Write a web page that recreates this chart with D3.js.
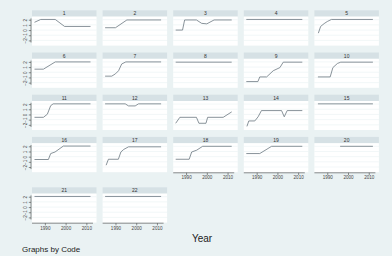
<!DOCTYPE html>
<html>
<head>
<meta charset="utf-8">
<script src="https://cdn.jsdelivr.net/npm/d3@7"></script>
<style>
  html, body { margin: 0; padding: 0; background: #eaf2f3; }
  svg { display: block; font-family: "Liberation Sans", Arial, sans-serif; }
</style>
</head>
<body>
<script>
// one entry per Code (1..22), values
const codes = d3.range(1, 23);

const panelYears = [
  [1985, 1988, 1995, 1999.5, 2012],
  [1985, 1990, 1995.5, 2012],
  [1985, 1988.3, 1989.3, 1995, 1997.5, 2000, 2003.5, 2012],
  [1985, 2012],
  [1985.7, 1986.8, 1988.5, 1990, 1992, 2012],
  [1985, 1989.3, 1995, 2012],
  [1985, 1988.2, 1990, 1991.5, 1993, 1995, 2012],
  [1985, 2012],
  [1985, 1990.6, 1991.5, 1994.8, 1998, 2001.2, 2002.8, 2012],
  [1985.5, 1991.4, 1992.7, 1994.9, 1996.5, 2012],
  [1985, 1989.3, 1991.2, 1992.8, 1994, 2012],
  [1985, 1994.7, 1996.3, 1999.5, 2001.1, 2012],
  [1985, 1987, 1995, 1996.2, 1999.6, 2000.4, 2007.9, 2012],
  [1985.3, 1986.2, 1989.1, 1990.7, 1992.3, 2002, 2003.3, 2004.7, 2012],
  [1985.5, 2012],
  [1985, 1991.7, 1992.8, 1994.9, 1998.9, 2012],
  [1985.5, 1986.6, 1991.4, 1992.6, 1994, 1996.3, 2012],
  [1985, 1991.5, 1992.7, 1995.1, 1998, 2012],
  [1985, 1991.5, 1997.2, 2012],
  [1996.2, 2012],
  [1985, 2012],
  [1985, 2012]
];

const panelValues = [
  [1.5, 2.05, 2.05, 0.7, 0.7],
  [0.45, 0.45, 1.95, 1.95],
  [0, 0, 1.95, 1.95, 1.3, 1.2, 1.95, 1.95],
  [2.05, 2.05],
  [-0.6, 0.7, 1.25, 1.65, 2.05, 2.05],
  [0.6, 0.6, 2, 2],
  [-0.75, -0.75, -0.3, 0.3, 1.6, 2, 2],
  [1.95, 1.95],
  [-1.8, -1.8, -0.9, -0.9, 0.3, 0.9, 1.95, 1.95],
  [-0.9, -0.9, 0.9, 1.7, 1.95, 1.95],
  [-0.55, -0.55, 0.05, 1.7, 2.05, 2.05],
  [2.05, 2.05, 1.65, 1.65, 2.05, 2.05],
  [-1.7, -0.55, -0.55, -1.7, -1.7, -0.55, -0.55, 0.5],
  [-2.3, -1.25, -1.25, -0.45, 0.75, 0.75, -0.45, 0.75, 0.75],
  [2.05, 2.05],
  [-0.55, -0.55, 0.6, 0.9, 2.05, 2.05],
  [-1.65, -0.5, -0.5, 0.9, 1.4, 1.9, 1.9],
  [-0.5, -0.5, 0.9, 1.25, 2, 2],
  [0.6, 0.6, 2, 2],
  [2, 2],
  [2.05, 2.05],
  [2.05, 2.05]
];

const yTicks = [-2, -1, 0, 1, 2];
const xTicks = [1990, 2000, 2010];

const width = 392, height = 256;
const svg = d3.select("body").append("svg").attr("width", width).attr("height", height);

svg.append("rect").attr("width", width).attr("height", height).attr("fill", "#eaf2f3");

const nCols = 5;
const colX0 = 32, colStep = 70.6, panelW = 64.5;
const rowTops = [10.3, 52.5, 94.7, 136.9, 187.3];
const stripH = 6.3, plotH = 29;

const x = d3.scaleLinear().domain([1985, 2012]).range([2.5, 58.5]);
const y = d3.scaleLinear().domain([-3, 2.6]).range([plotH, 0]);

const line = d3.line().x(d => x(d[0])).y(d => y(d[1]));

codes.forEach((code, i) => {
  const col = i % nCols, row = Math.floor(i / nCols);
  const left = colX0 + col * colStep, top = rowTops[row];

  const g = svg.append("g").attr("transform", `translate(${left},${top})`);

  // strip with the code
  g.append("rect").attr("width", panelW).attr("height", stripH).attr("fill", "#d6e1e5");
  g.append("text").attr("x", panelW / 2).attr("y", stripH - 1.3)
    .attr("text-anchor", "middle").attr("font-size", 5).attr("fill", "#333")
    .text(code);

  const p = g.append("g").attr("transform", `translate(0,${stripH})`);
  p.append("rect").attr("width", panelW).attr("height", plotH).attr("fill", "#fff");

  p.selectAll(".grid").data(yTicks).enter().append("line")
    .attr("x1", 0).attr("x2", panelW)
    .attr("y1", d => y(d)).attr("y2", d => y(d))
    .attr("stroke", "#eaf2f3").attr("stroke-width", 0.6);

  const pts = panelYears[i].map((yr, k) => [yr, panelValues[i][k]]);
  p.append("path").attr("d", line(pts))
    .attr("fill", "none").attr("stroke", "#6b7780").attr("stroke-width", 0.8);

  // y axis on the first column
  if (col === 0) {
    const ya = p.append("g").attr("transform", "translate(-1,0)")
      .call(d3.axisLeft(y).tickValues(yTicks).tickSize(2.2).tickPadding(1.5).tickFormat(d3.format("d")));
    ya.select(".domain").attr("d", `M0,${y(-2.4)}V${y(2.25)}`).attr("stroke", "#444").attr("stroke-width", 0.6);
    ya.selectAll(".tick line").attr("stroke", "#444").attr("stroke-width", 0.6);
    ya.selectAll(".tick text")
      .attr("font-size", 4.6).attr("fill", "#444").attr("font-family", "Liberation Sans, Arial, sans-serif")
      .attr("transform", "rotate(-90)").attr("text-anchor", "middle")
      .attr("x", 0).attr("dy", 0)
      .attr("y", -4.2);
  }

  // x axis only under the bottom panel of each column
  const below = i + nCols;
  if (below >= codes.length) {
    const xa = p.append("g").attr("transform", `translate(0,${plotH + 0.6})`)
      .call(d3.axisBottom(x).tickValues(xTicks).tickSize(2.2).tickPadding(1.2).tickFormat(d3.format("d")));
    xa.select(".domain").attr("d", `M${x(1983.8)},0H${x(2013.2)}`).attr("stroke", "#444").attr("stroke-width", 0.6);
    xa.selectAll(".tick line").attr("stroke", "#444").attr("stroke-width", 0.6);
    xa.selectAll(".tick text").attr("font-size", 4.6).attr("fill", "#444")
      .attr("font-family", "Liberation Sans, Arial, sans-serif");
  }
});

svg.append("text").attr("x", 202).attr("y", 242)
  .attr("text-anchor", "middle").attr("font-size", 10).attr("fill", "#222")
  .text("Year");

svg.append("text").attr("x", 22).attr("y", 252)
  .attr("font-size", 8).attr("fill", "#222")
  .text("Graphs by  Code");
</script>
</body>
</html>
